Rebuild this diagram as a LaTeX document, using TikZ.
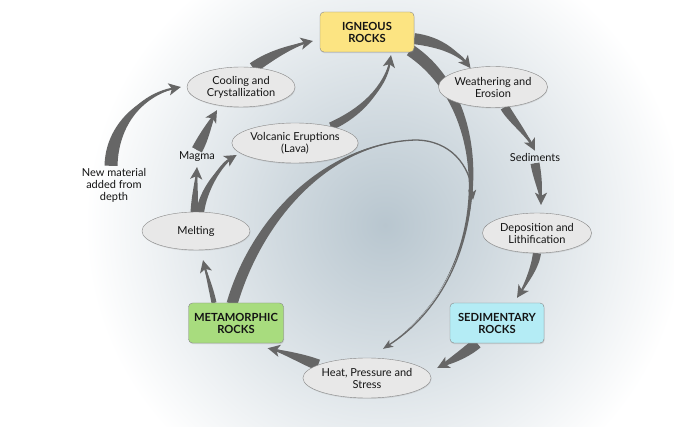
\documentclass[tikz,border=0pt]{standalone}
\usepackage{fontspec}
\setmainfont{Lato}
\usetikzlibrary{arrows.meta,positioning,calc,shapes.geometric,shadows}

\definecolor{arrowgray}{RGB}{102,102,102}
\definecolor{boxline}{RGB}{135,135,135}
\definecolor{ovalfill}{RGB}{232,232,232}
\definecolor{textdark}{RGB}{20,20,20}
\definecolor{bgblue}{RGB}{184,198,207}
\definecolor{igneousfill}{RGB}{252,228,130}
\definecolor{sedfill}{RGB}{180,236,245}
\definecolor{metafill}{RGB}{168,220,126}

\pgfdeclareradialshading{rockbg}{\pgfpoint{0bp}{0bp}}{color(0bp)=(bgblue); color(9bp)=(bgblue!65!white); color(25bp)=(white); color(50bp)=(white)}

\pgfdeclarelayer{back}
\pgfsetlayers{back,main}

% tapered arrow: [tip style]{start}{control 1}{control 2}{end}{half width}
\newcommand{\taper}[6][headarrow]{%
  \path coordinate (tpA) at (#2) coordinate (tpB) at (#3)
        coordinate (tpC) at (#4) coordinate (tpD) at (#5);
  \path coordinate (tpL) at ($(tpA)!#6!90:(tpB)$)
        coordinate (tpR) at ($(tpA)!#6!-90:(tpB)$);
  \fill[arrowgray] (tpL) .. controls ($(tpB)+(tpL)-(tpA)$) and ($(tpC)+0.35*(tpL)-0.35*(tpA)$) .. (tpD)
    .. controls ($(tpC)+0.35*(tpR)-0.35*(tpA)$) and ($(tpB)+(tpR)-(tpA)$) .. (tpR) -- cycle;
  \draw[#1] (tpA) .. controls (tpB) and (tpC) .. (tpD);
}

\begin{document}
\begin{tikzpicture}[x=1pt,y=-1pt,>=Stealth,font=\fontsize{11}{12}\selectfont,text=textdark]
  \tikzstyle{rockbox}=[draw=boxline,rounded corners=4pt,minimum width=94pt,minimum height=40pt,align=center,font=\fontsize{11.2}{12}\selectfont\bfseries,drop shadow={opacity=0.25,shadow xshift=0.6pt,shadow yshift=-1.2pt}]
  \tikzstyle{procoval}=[ellipse,draw=boxline,fill=ovalfill,minimum width=108pt,minimum height=40pt,inner sep=0pt,align=center,drop shadow={opacity=0.2,shadow xshift=0.5pt,shadow yshift=-1pt}]
  \tikzstyle{steplabel}=[align=center,inner sep=2pt]
  \tikzstyle{headarrow}=[arrowgray,line width=2pt,-{Stealth[length=12pt,width=12pt,inset=3pt]}]
  \tikzstyle{thinarrow}=[arrowgray,line width=1.3pt,-{Stealth[length=10pt,width=8pt,inset=2.5pt]}]
  \tikzstyle{thinline}=[arrowgray,line width=1.3pt]

  \useasboundingbox (0,0) rectangle (674,427);

  \node[rockbox,fill=igneousfill] (igneous) at (367,32) {IGNEOUS\\ROCKS};
  \node[procoval,minimum width=109pt,minimum height=41pt] (weathering) at (493,87) {Weathering and\\Erosion};
  \node[steplabel] (sediments) at (535,157) {Sediments};
  \node[procoval,minimum width=109pt] (deposition) at (537,233) {Deposition and\\Lithification};
  \node[rockbox,fill=sedfill] (sedimentary) at (497,323) {SEDIMENTARY\\ROCKS};
  \node[procoval] (heat) at (367,378) {Heat, Pressure and\\Stress};
  \node[rockbox,fill=metafill,minimum width=95pt] (metamorphic) at (236,323) {METAMORPHIC\\ROCKS};
  \node[procoval,minimum height=38pt] (melting) at (196,231) {Melting};
  \node[steplabel] (magma) at (197,157) {Magma};
  \node[steplabel] (newmaterial) at (114,185) {New material\\added from\\depth};
  \node[procoval] (volcanic) at (295,143) {Volcanic Eruptions\\(Lava)};
  \node[procoval] (cooling) at (241,87) {Cooling and\\Crystallization};

  \coordinate (metaturn) at (415,140);
  \coordinate (metaend) at (473,200);

  \begin{pgfonlayer}{back}
    \begin{scope}
      \clip (0,0) rectangle (674,427);
      \shade[shading=rockbg] (385,225) circle (300);
    \end{scope}

    \taper{igneous.-8}{440,42}{458,52}{weathering.140}{5.5pt}
    \taper{weathering.-60}{512,120}{526,133}{sediments.north}{4.5pt}
    \taper{sediments.south}{538,180}{541,192}{$(deposition.north)+(4,-8)$}{4.5pt}
    \taper{deposition.south}{535,268}{526,284}{$(sedimentary.north)+(20,-5)$}{4pt}
    \taper{$(sedimentary.south)+(-20,0)$}{462,356}{445,364}{$(heat.east)+(6,-10)$}{5.5pt}
    \taper{heat.165}{305,360}{285,352}{$(metamorphic.south east)+(-16,5)$}{5.5pt}
    \taper{$(metamorphic.north)+(-22,0)$}{211,288}{206,272}{$(melting.south)+(7,10)$}{2.5pt}
    \taper{$(melting.north)+(-2,1)$}{195,195}{196,182}{$(magma.south)+(0,3)$}{3.5pt}
    \taper{magma.north}{205,135}{210,122}{$(cooling.south)+(-24,3)$}{5.5pt}
    \taper{$(melting.north)+(4,1)$}{203,190}{220,165}{$(volcanic.west)+(5,12)$}{4pt}
    \taper{$(newmaterial.north)+(-3,0)$}{112,125}{140,95}{$(cooling.west)+(-6,0)$}{6.5pt}
    \taper{$(cooling.north)+(12,1)$}{270,56}{290,46}{$(igneous.west)+(-7,9)$}{5.5pt}
    \taper{volcanic.25}{360,113}{385,90}{$(igneous.south)+(24,3)$}{4pt}
    \taper[thinarrow]{$(igneous.south east)+(-4,-2)$}{500,110}{490,280}{$(heat.north)+(16,-9)$}{6pt}
    \taper[thinline]{$(metamorphic.north)+(-4,1)$}{258,215}{330,143}{metaturn}{5.5pt}
    \draw[thinarrow] (metaturn) .. controls (450,140) and (470,165) .. (metaend);
  \end{pgfonlayer}
\end{tikzpicture}
\end{document}
